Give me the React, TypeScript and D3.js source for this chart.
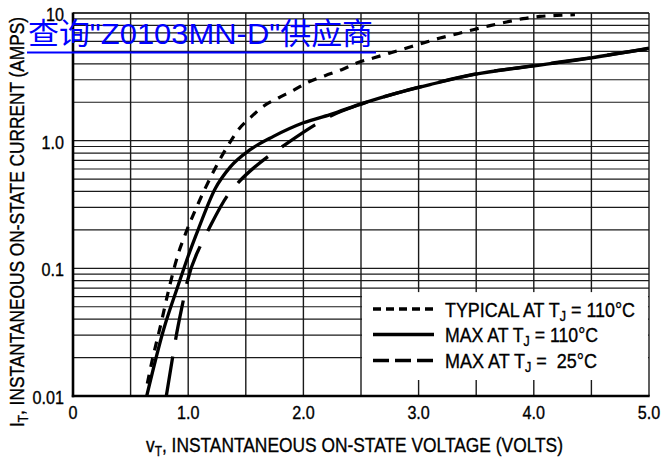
import React from "react";
import * as d3 from "d3";

// ---- data ----
const typicalV = [0.645, 0.67, 0.772, 0.838, 0.916, 0.974, 1.089, 1.206, 1.35, 1.436, 1.538, 1.653, 1.783, 1.913, 2.043, 2.188, 2.333, 2.463, 2.607, 2.752, 2.897, 3.041, 3.186, 3.33, 3.474, 3.619, 3.764, 3.908, 4.053, 4.198, 4.357];
const typicalI = [0.0125, 0.0161, 0.0397, 0.0723, 0.132, 0.184, 0.325, 0.542, 0.931, 1.22, 1.51, 1.86, 2.16, 2.48, 2.88, 3.23, 3.6, 4.06, 4.44, 4.86, 5.32, 5.82, 6.37, 6.85, 7.4, 7.96, 8.51, 9.03, 9.4, 9.58, 9.7];

const max110V = [0.64, 0.786, 0.916, 1.0, 1.09, 1.234, 1.364, 1.538, 1.74, 2.0, 2.232, 2.52, 2.81, 3.099, 3.474, 3.966, 4.487, 5.0];
const max110I = [0.01, 0.033, 0.075, 0.125, 0.205, 0.42, 0.62, 0.85, 1.08, 1.38, 1.6, 1.97, 2.36, 2.75, 3.29, 3.82, 4.44, 5.3];

const max25V = [0.81, 0.867, 0.893, 0.959, 0.989, 1.11, 1.176, 1.336, 1.436, 1.696, 1.813, 2.101, 2.232, 2.52, 2.81, 3.099, 3.474, 3.966, 4.487, 5.0];
const max25I = [0.01, 0.0207, 0.0285, 0.0569, 0.0769, 0.153, 0.201, 0.366, 0.471, 0.754, 0.893, 1.33, 1.55, 1.96, 2.36, 2.76, 3.3, 3.83, 4.46, 5.28];

const xTickValues = [0, 1, 2, 3, 4, 5];
const xTickLabels = ["0", "1.0", "2.0", "3.0", "4.0", "5.0"];
const yTickValues = [0.01, 0.1, 1, 10];
const yTickLabels = ["0.01", "0.1", "1.0", "10"];

const legendMain = ["TYPICAL AT T", "MAX AT T", "MAX AT T"];
const legendSub = ["J", "J", "J"];
const legendTail = [" = 110°C", " = 110°C", " =  25°C"];

const xTitleMain = "v";
const xTitleSub = "T";
const xTitleTail = ", INSTANTANEOUS ON-STATE VOLTAGE (VOLTS)";
const yTitleMain = "I";
const yTitleSub = "T";
const yTitleTail = ", INSTANTANEOUS ON-STATE CURRENT (AMPS)";
const linkText = "查询\"Z0103MN-D\"供应商";

const FONT = "'Liberation Sans', Arial, Helvetica, sans-serif";
const TS = 0.35; // slight text stroke for heavier look

export default function App() {
  const W = 661, H = 460;
  const x = d3.scaleLinear().domain([0, 5]).range([73, 649]);
  const y = d3.scaleLog().domain([0.01, 10]).range([396, 13]);

  const vGrid = d3.range(0.5, 5, 0.5);
  const hGrid: number[] = [];
  [0.01, 0.1, 1].forEach((dec) => {
    for (let k = 2; k <= 9; k++) hGrid.push(k * dec);
  });
  hGrid.push(0.1, 1, 10);

  const line = d3
    .line<[number, number]>()
    .x((d) => x(d[0]))
    .y((d) => y(d[1]))
    .curve(d3.curveMonotoneX);

  const typ = line(typicalV.map((v, i) => [v, typicalI[i]]) as [number, number][]);
  const m110 = line(max110V.map((v, i) => [v, max110I[i]]) as [number, number][]);
  const m25 = line(max25V.map((v, i) => [v, max25I[i]]) as [number, number][]);

  const legTop = y(0.07);
  const legX0 = x(2.5);
  const legX1 = x(5);
  const legRows = [309, 334.5, 360.5];
  const legDash = ["8,5", "", "16,6"];
  const legLens = [190, 153, 152];

  const gridColor = "#1a1a1a";

  return (
    <svg
      width={W}
      height={H}
      style={{ position: "absolute", left: 0, top: 0, background: "#fff" }}
    >
      <rect x={0} y={0} width={W} height={H} fill="#fff" />
      <defs>
        <clipPath id="plot">
          <rect x={x(0)} y={y(10)} width={x(5) - x(0)} height={y(0.01) - y(10)} />
        </clipPath>
      </defs>

      {/* horizontal grid */}
      {hGrid.map((v, i) => (
        <line key={"h" + i} x1={x(0)} x2={x(5)} y1={y(v)} y2={y(v)} stroke={gridColor} strokeWidth={1.2} />
      ))}
      {/* vertical grid */}
      {vGrid.map((v, i) => (
        <line key={"v" + i} x1={x(v)} x2={x(v)} y1={y(10)} y2={y(0.01)} stroke={gridColor} strokeWidth={1.4} />
      ))}

      {/* legend box background */}
      <rect x={legX0 + 1} y={legTop + 4} width={legX1 - legX0 - 2} height={380 - legTop - 4} fill="#fff" />

      {/* borders */}
      <line x1={x(5)} x2={x(5)} y1={y(10)} y2={y(0.01)} stroke={gridColor} strokeWidth={1.4} />
      <line x1={x(0)} x2={x(5)} y1={y(10)} y2={y(10)} stroke={gridColor} strokeWidth={1.4} />
      <line x1={x(0)} x2={x(0)} y1={y(10) - 0.5} y2={y(0.01) + 1.2} stroke="#000" strokeWidth={2.6} />
      <line x1={x(0) - 1.2} x2={x(5) + 0.7} y1={y(0.01)} y2={y(0.01)} stroke="#000" strokeWidth={2.6} />

      {/* curves */}
      <g clipPath="url(#plot)" fill="none" stroke="#000">
        <path d={typ || ""} strokeWidth={3.2} strokeDasharray="9,8" />
        <path d={m110 || ""} strokeWidth={3.3} />
        <path d={m25 || ""} strokeWidth={3.3} strokeDasharray="40,17" />
      </g>

      {/* legend */}
      {legRows.map((ry, i) => (
        <g key={"lg" + i}>
          <line x1={373} x2={434} y1={ry} y2={ry} stroke="#000" strokeWidth={3.4} strokeDasharray={legDash[i] || undefined} />
          <text
            x={445}
            y={ry + 7.5}
            fontFamily={FONT}
            fontSize={20}
            fill="#000"
            stroke="#000"
            strokeWidth={TS}
            textLength={legLens[i]}
            lengthAdjust="spacingAndGlyphs"
            style={{ whiteSpace: "pre" }}
          >
            {legendMain[i]}
            <tspan fontSize={14} dy={4}>{legendSub[i]}</tspan>
            <tspan dy={-4}>{legendTail[i]}</tspan>
          </text>
        </g>
      ))}

      {/* x tick labels */}
      {xTickValues.map((v, i) => (
        <text
          key={"xt" + i}
          transform={`translate(${x(v)},419) scale(0.85,1)`}
          textAnchor="middle"
          fontFamily={FONT}
          fontSize={19}
          fill="#000"
          stroke="#000"
          strokeWidth={TS}
        >
          {xTickLabels[i]}
        </text>
      ))}
      {/* y tick labels */}
      {yTickValues.map((v, i) => (
        <text
          key={"yt" + i}
          transform={`translate(64,${y(v) + 8}) scale(0.85,1)`}
          textAnchor="end"
          fontFamily={FONT}
          fontSize={19}
          fill="#000"
          stroke="#000"
          strokeWidth={TS}
        >
          {yTickLabels[i]}
        </text>
      ))}

      {/* x title */}
      <text
        x={146}
        y={451.5}
        fontFamily={FONT}
        fontSize={20.5}
        fill="#000"
        stroke="#000"
        strokeWidth={TS}
        textLength={417}
        lengthAdjust="spacingAndGlyphs"
      >
        {xTitleMain}
        <tspan fontSize={14} dy={4}>{xTitleSub}</tspan>
        <tspan dy={-4}>{xTitleTail}</tspan>
      </text>

      {/* y title */}
      <text
        transform={`translate(23.5,427) rotate(-90)`}
        x={0}
        y={0}
        fontFamily={FONT}
        fontSize={20.5}
        fill="#000"
        stroke="#000"
        strokeWidth={TS}
        textLength={410}
        lengthAdjust="spacingAndGlyphs"
      >
        {yTitleMain}
        <tspan fontSize={14} dy={4}>{yTitleSub}</tspan>
        <tspan dy={-4}>{yTitleTail}</tspan>
      </text>

      {/* blue link overlay */}
      <text
        x={28}
        y={44}
        fontFamily="'Liberation Sans', Arial, 'Noto Sans CJK SC', sans-serif"
        fontSize={30}
        fill="#0000ff"
        textLength={345}
        lengthAdjust="spacingAndGlyphs"
      >
        {linkText}
      </text>
      <rect x={27} y={51.5} width={349} height={2} fill="#0000ff" />
    </svg>
  );
}
